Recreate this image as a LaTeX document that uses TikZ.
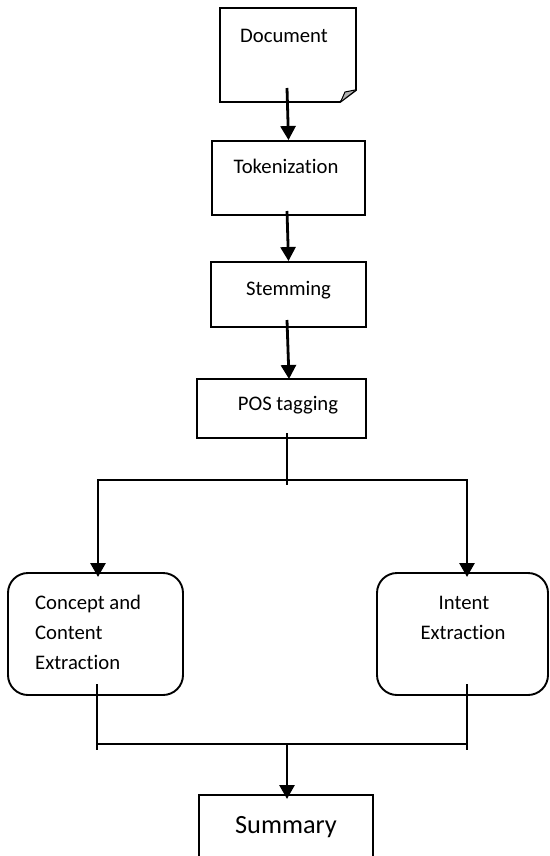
\documentclass[tikz,border=0pt]{standalone}
\usepackage{fontspec}
\setmainfont{Carlito}[Ligatures=NoCommon]
\usetikzlibrary{arrows.meta}
\begin{document}
\begin{tikzpicture}[x=1pt,y=-1pt,
  box/.style={draw=black,line width=1.9pt,minimum width=#1,inner sep=0pt},
  rbox/.style={draw=black,line width=1.9pt,rounded corners=20pt,inner sep=0pt},
  txt/.style={anchor=base,inner sep=0pt,font=\fontsize{20.7}{25}\selectfont},
  ltxt/.style={anchor=base west,inner sep=0pt,font=\fontsize{20.7}{25}\selectfont},
  arr/.style={line width=2.8pt,-{Triangle[width=15pt,length=14pt]}},
  conn/.style={line width=2.5pt},
  thin/.style={line width=1.9pt}]
\useasboundingbox (0,0) rectangle (549,856);
\clip (0,0) rectangle (549,856);
\fill[white] (0,0) rectangle (549,856);

% Document shape with folded corner
\draw[line width=1.9pt,line join=miter] (220,8) -- (356,8) -- (356,90) -- (340,102) -- (220,102) -- cycle;
\fill[gray!60] (341,101) -- (345,92) -- (355,90) -- cycle;
\draw[line width=1pt] (341,101) -- (345,92) -- (355,90);
\node[txt] (doctext) at (284,43) {Document};
\coordinate (d1) at (287,88);

% boxes
\node[box=153pt,minimum height=74pt] (tok) at (288.5,178) {};
\node[txt] (toktext) at (286,173) {Tokenization};
\node[box=155pt,minimum height=65pt] (stem) at (288.5,294.5) {};
\node[txt] (stemtext) at (288.5,295) {Stemming};
\node[box=169pt,minimum height=59pt] (pos) at (281.5,408.5) {};
\node[txt] (postext) at (288,410) {POS tagging};

\node[rbox,minimum width=175pt,minimum height=122pt] (cce) at (95.5,634) {};
\node[ltxt] (cce1) at (35,609) {Concept and};
\node[ltxt] (cce2) at (35,639) {Content};
\node[ltxt] (cce3) at (35,669) {Extraction};

\node[rbox,minimum width=171pt,minimum height=122pt] (ie) at (462.5,634) {};
\node[txt] (ie1) at (464,609) {Intent};
\node[txt] (ie2) at (463,639) {Extraction};

\node[box=174pt,minimum height=80pt] (sum) at (286,835) {};
\node[anchor=base,inner sep=0pt,font=\fontsize{26.3}{30}\selectfont] (sumtext) at (286,833) {Summary};

% connectors
\coordinate (t1) at (287,211);
\coordinate (s1) at (287,320);
\coordinate (s2) at (289,379);
\coordinate (p1) at (287,433);
\coordinate (p2) at (287,485);
\coordinate (hl) at (98,480);
\coordinate (hr) at (467,480);
\coordinate (cl) at (98,577);
\coordinate (cr) at (467,577);
\coordinate (bl1) at (97,684);
\coordinate (bl2) at (97,750);
\coordinate (br1) at (467,684);
\coordinate (br2) at (467,750);
\coordinate (bhl) at (97,744);
\coordinate (bhr) at (467,744);
\coordinate (m1) at (287,743);
\coordinate (m2) at (287,799);

\draw[arr] (d1) -- (tok.north);
\draw[arr] (t1) -- (stem.north);
\draw[arr] (s1) -- (s2);
\draw[thin] (p1) -- (p2);
\draw[conn,line cap=rect] (hl) -- (hr);
\draw[arr] (hl) -- (cl);
\draw[arr] (hr) -- (cr);
\draw[thin] (bl1) -- (bl2);
\draw[thin] (br1) -- (br2);
\draw[conn] (bhl) -- (bhr);
\draw[arr] (m1) -- (m2);
\end{tikzpicture}
\end{document}
